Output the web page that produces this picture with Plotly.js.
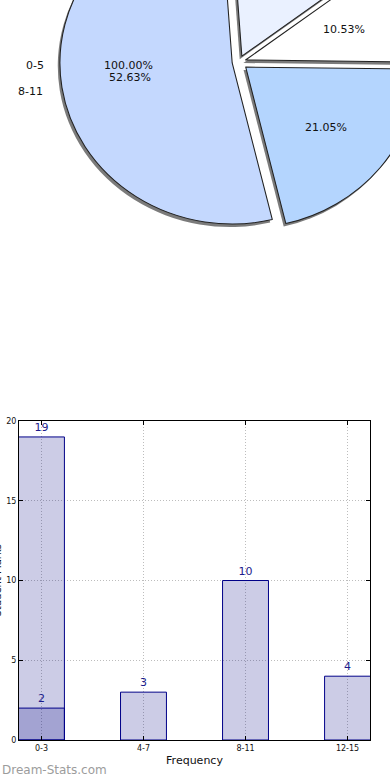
<!DOCTYPE html>
<html>
<head>
<meta charset="utf-8">
<script src="https://cdn.plot.ly/plotly-3.0.1.min.js"></script>
<style>
html,body{margin:0;padding:0;width:390px;height:780px;overflow:hidden;background:#fff;position:relative;}
#pie{position:absolute;left:0;top:-200px;width:500px;height:520px;transform:scaleX(1.07);transform-origin:239px 262px;}
#pietext{position:absolute;left:0;top:-200px;width:500px;height:520px;pointer-events:none;}
#bar{position:absolute;left:0;top:380px;width:390px;height:400px;}
</style>
</head>
<body>
<div id="pie"></div>
<div id="pietext"></div>
<div id="bar"></div>
<script>
// ---- pie data ----
const pieLabels = ['4-7', '0-3', '12-15', '8-11'];
const pieValues = [3, 2, 4, 10];
const pieColors = ['#eaf1ff', '#ffffff', '#b4d5fe', '#c4d8fe'];
const piePull = [0.04, 0.04, 0.05, 0.04];
const overlayPieLabels = ['0-5'];
const overlayPieValues = [1];

// ---- bar data ----
const barCats = ['0-3', '4-7', '8-11', '12-15'];
const barValues = [19, 3, 10, 4];
const overlayCats = ['0-3'];
const overlayValues = [2];
const xTitle = 'Frequency';
const yTitle = 'Student Marks';

const FONT = 'DejaVu Sans, sans-serif';

// pie geometry (in pie div pixels); the div is stretched horizontally by SX
const W = 500, H = 520, TOP = -200;
const cx = 239, cy = 262, R = 161, SX = 1.07;
const maxPull = Math.max(...piePull);
const half = R * (1 + maxPull);
const dom = {x: [(cx - half) / W, (cx + half) / W], y: [(H - cy - half) / H, (H - cy + half) / H]};
const shx = 2, shy = 3;
const shadowDom = {x: [dom.x[0] - shx / W, dom.x[1] - shx / W], y: [dom.y[0] - shy / H, dom.y[1] - shy / H]};
const rotation = -4;

const shadowTrace = {
  type: 'pie', values: pieValues, labels: pieLabels, sort: false, direction: 'clockwise',
  rotation: rotation, pull: piePull, domain: shadowDom, textinfo: 'none', hoverinfo: 'skip',
  marker: {colors: pieValues.map(() => 'rgba(90,90,90,0.8)'), line: {width: 0}}, showlegend: false
};
const pieTrace = {
  type: 'pie', values: pieValues, labels: pieLabels, sort: false, direction: 'clockwise',
  rotation: rotation, pull: piePull, domain: dom, textinfo: 'none',
  marker: {colors: pieColors, line: {color: '#222', width: 1}}, showlegend: false
};

function inView(px, py) { const vy = py + TOP; return px > 2 && px < 380 && vy > 6 && vy < 380; }
const ann = [];
function addText(dx, dy, text, anchor) {
  const px = cx + dx * SX, py = cy + dy;
  if (!inView(px, py)) return;
  ann.push({x: px / W, y: (H - py) / H, xref: 'paper', yref: 'paper', showarrow: false,
    xanchor: anchor, yanchor: 'middle', text: text, font: {family: FONT, size: 11, color: '#111'}});
}
const total = pieValues.reduce((a, b) => a + b, 0);
let cum = rotation;
pieValues.forEach((v, i) => {
  const span = v / total * 360;
  const mid = (cum + span / 2) * Math.PI / 180;
  cum += span;
  const p = piePull[i] * R;
  const dPct = p + 0.6 * R, dLab = p + 1.1 * R;
  const s = Math.sin(mid), c = Math.cos(mid);
  addText(dPct * s, -dPct * c, (v / total * 100).toFixed(2) + '%', 'center');
  addText(dLab * s, -dLab * c + 2, pieLabels[i], s < 0 ? 'right' : 'left');
});
// overlay single-slice pie labels (slice centred at 9 o'clock)
const oTotal = overlayPieValues.reduce((a, b) => a + b, 0);
overlayPieValues.forEach((v, i) => {
  const mid = 270 * Math.PI / 180;
  addText(0.64 * R * Math.sin(mid), 3, (v / oTotal * 100).toFixed(2) + '%', 'center');
  addText(1.12 * R * Math.sin(mid), 3, overlayPieLabels[i], 'right');
});

Plotly.newPlot('pie', [shadowTrace, pieTrace], {
  width: W, height: H, margin: {l: 0, r: 0, t: 0, b: 0},
  paper_bgcolor: 'rgba(0,0,0,0)', plot_bgcolor: 'rgba(0,0,0,0)',
  showlegend: false, font: {family: FONT}
}, {staticPlot: true});
Plotly.newPlot('pietext', [], {
  width: W, height: H, margin: {l: 0, r: 0, t: 0, b: 0},
  paper_bgcolor: 'rgba(0,0,0,0)', plot_bgcolor: 'rgba(0,0,0,0)',
  xaxis: {visible: false}, yaxis: {visible: false},
  showlegend: false, annotations: ann, font: {family: FONT}
}, {staticPlot: true});

// ---- bar chart ----
const barFill = 'rgba(0,0,128,0.2)';
const barLine = '#000088';
const textCol = '#1c1c8c';
const mainBar = {
  type: 'bar', x: barCats, y: barValues, width: 0.45,
  marker: {color: barFill, line: {color: barLine, width: 1}},
  text: barValues.map(String), textposition: 'outside', cliponaxis: false,
  textfont: {family: FONT, size: 11, color: textCol}, hoverinfo: 'skip'
};
const overBar = {
  type: 'bar', x: overlayCats, y: overlayValues, width: 0.45,
  marker: {color: barFill, line: {color: barLine, width: 1}},
  text: overlayValues.map(String), textposition: 'outside', cliponaxis: false,
  textfont: {family: FONT, size: 11, color: textCol}, hoverinfo: 'skip'
};
const axCommon = {
  showline: true, mirror: 'ticks', linecolor: '#000', linewidth: 1,
  ticks: 'inside', ticklen: 4, tickcolor: '#000', tickwidth: 1,
  showgrid: true, gridcolor: '#bdbdbd', griddash: '1px,2px', gridwidth: 1, zeroline: false,
  tickfont: {family: FONT, size: 8, color: '#111'}
};
Plotly.newPlot('bar', [mainBar, overBar], {
  width: 390, height: 400, margin: {l: 19, r: 20, t: 41, b: 40},
  barmode: 'overlay', showlegend: false, paper_bgcolor: '#fff', plot_bgcolor: '#fff',
  font: {family: FONT},
  xaxis: Object.assign({}, axCommon, {type: 'category', range: [-0.22, 3.22],
    title: {text: xTitle, font: {family: FONT, size: 11, color: '#111'}, standoff: 4}}),
  yaxis: Object.assign({}, axCommon, {range: [0, 20], tickvals: [0, 5, 10, 15, 20], automargin: false}),
  annotations: [
    {xref: 'paper', yref: 'paper', x: -19 / 351, y: -30 / 319, xanchor: 'left', yanchor: 'middle',
      showarrow: false, text: 'Dream-Stats.com', font: {family: FONT, size: 12, color: '#9c9c9c'}},
    {xref: 'paper', yref: 'paper', x: -22 / 351, y: 0.5, xanchor: 'center', yanchor: 'middle', textangle: -90,
      showarrow: false, text: yTitle, font: {family: FONT, size: 10, color: '#111'}}
  ]
}, {staticPlot: true});
</script>
</body>
</html>
